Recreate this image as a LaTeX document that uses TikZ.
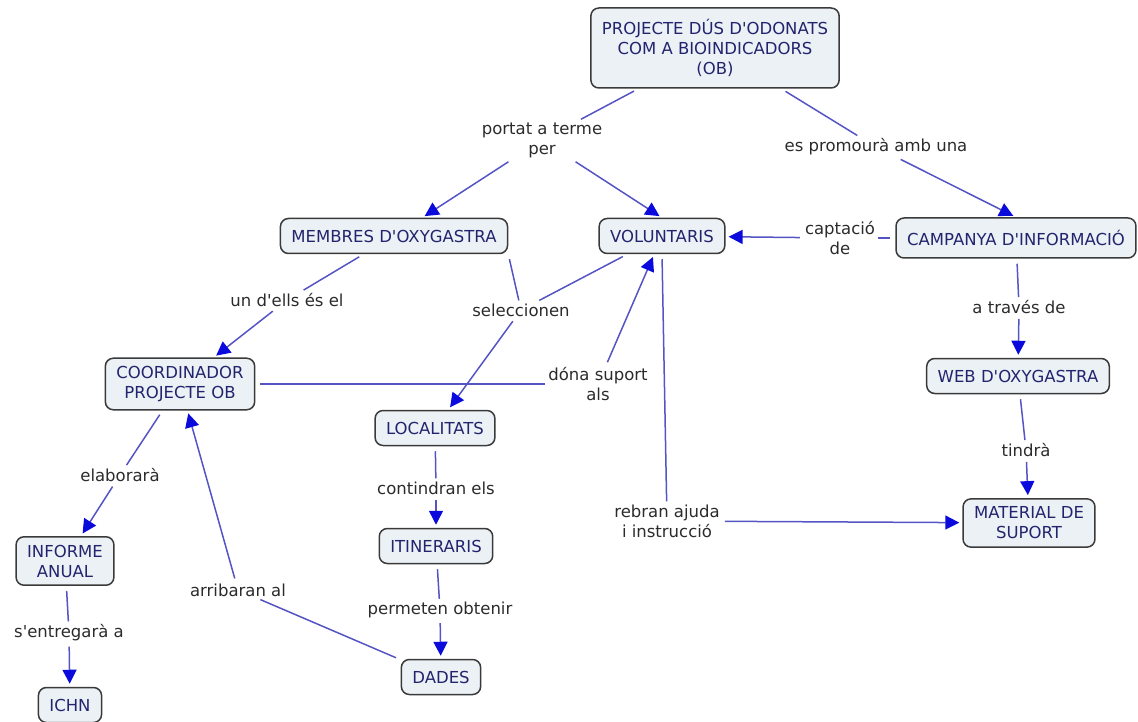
\documentclass[tikz,border=0pt]{standalone}
\usepackage{fontspec}
\newfontfamily\cmapfont{DejaVu Sans}
\usetikzlibrary{arrows.meta}
\definecolor{conceptfill}{HTML}{EBF1F5}
\definecolor{conceptdraw}{HTML}{3A3A3A}
\definecolor{concepttext}{HTML}{24246E}
\definecolor{phrasetext}{HTML}{2B2B2B}
\definecolor{linkline}{HTML}{5454C4}
\definecolor{tipblue}{HTML}{0A0ADC}
\tikzset{
    %Define standard arrow tip
    >={Triangle[length=14pt,width=14pt,color=tipblue]},
    %Define style for concepts
    concept/.style={
           rectangle,
           rounded corners=8pt,
           draw=conceptdraw, line width=1.5pt,
           fill=conceptfill,
           text=concepttext,
           font=\cmapfont\fontsize{16.5}{20}\selectfont,
           align=center,
           inner xsep=11pt,
           inner ysep=8pt,
           minimum height=35pt},
    %Define style for linking phrases
    phrase/.style={
           text=phrasetext,
           font=\cmapfont\fontsize{16.5}{20}\selectfont,
           align=center,
           inner sep=3pt},
    % Define line styles
    lnk/.style={
           -,
           draw=linkline, line width=1.5pt,
           shorten <=5pt},
    pil/.style={
           ->,
           draw=linkline, line width=1.5pt,
           shorten <=2pt,
           shorten >=3pt}
}
\begin{document}
\begin{tikzpicture}[x=1pt,y=-1pt]
\useasboundingbox (0,0) rectangle (1138,722);
% concepts
\node[concept, minimum height=80pt](projecte) at (715,48) {PROJECTE DÚS D'ODONATS\\COM A BIOINDICADORS\\(OB)};
\node[concept](membres) at (394,236) {MEMBRES D'OXYGASTRA};
\node[concept](volunt) at (662,236) {VOLUNTARIS};
\node[concept, minimum height=40pt](campanya) at (1016,238) {CAMPANYA D'INFORMACIÓ};
\node[concept](coord) at (180,384) {COORDINADOR\\PROJECTE OB};
\node[concept](local) at (435,428) {LOCALITATS};
\node[concept](web) at (1018,376) {WEB D'OXYGASTRA};
\node[concept](itiner) at (436,546) {ITINERARIS};
\node[concept](material) at (1029,523) {MATERIAL DE\\SUPORT};
\node[concept](informe) at (65,561) {INFORME\\ANUAL};
\node[concept](dades) at (441,677) {DADES};
\node[concept](ichn) at (70,705) {ICHN};
% linking phrases
\node[phrase](portat) at (542,140) {portat a terme\\per};
\node[phrase](promou) at (876,147) {es promourà amb una};
\node[phrase](captacio) at (840,238) {captació\\de};
\node[phrase](undells) at (287,300) {un d'ells és el};
\node[phrase](selec) at (521,310) {seleccionen};
\node[phrase](suport) at (598,384) {dóna suport\\als};
\node[phrase](atraves) at (1019,307) {a través de};
\node[phrase](tindra) at (1026,450) {tindrà};
\node[phrase](elabora) at (120,475) {elaborarà};
\node[phrase](contin) at (436,488) {contindran els};
\node[phrase](permet) at (440,610) {permeten obtenir};
\node[phrase](arriba) at (238,590) {arribaran al};
\node[phrase](entrega) at (69,633) {s'entregarà a};
\node[phrase](rebran) at (667,521) {rebran ajuda\\i instrucció};
% links
\path
    (projecte) edge[lnk] (portat) edge[lnk] (promou)
    (portat) edge[pil] (membres) edge[pil] (volunt.north)
    (promou) edge[pil] (campanya.north)
    (campanya) edge[lnk] (captacio) edge[lnk] (atraves)
    (captacio) edge[pil] (volunt)
    (atraves) edge[pil] (web)
    (web) edge[lnk] (tindra)
    (tindra) edge[pil] (material)
    (membres) edge[lnk] (undells)
    (membres.south east) edge[lnk] (selec)
    (undells) edge[pil] (coord)
    (volunt) edge[lnk] (selec)
    (volunt.south) edge[lnk] (rebran)
    (selec) edge[pil] (local)
    (rebran) edge[pil] (material)
    (coord) edge[lnk] (suport) edge[lnk] (elabora)
    (suport) edge[pil] (volunt)
    (elabora) edge[pil] (informe)
    (informe) edge[lnk] (entrega)
    (entrega) edge[pil] (ichn)
    (local) edge[lnk] (contin)
    (contin) edge[pil] (itiner)
    (itiner) edge[lnk] (permet)
    (permet) edge[pil] (dades)
    (dades) edge[lnk] (arriba)
    (arriba) edge[pil] (coord);
\end{tikzpicture}
\end{document}
